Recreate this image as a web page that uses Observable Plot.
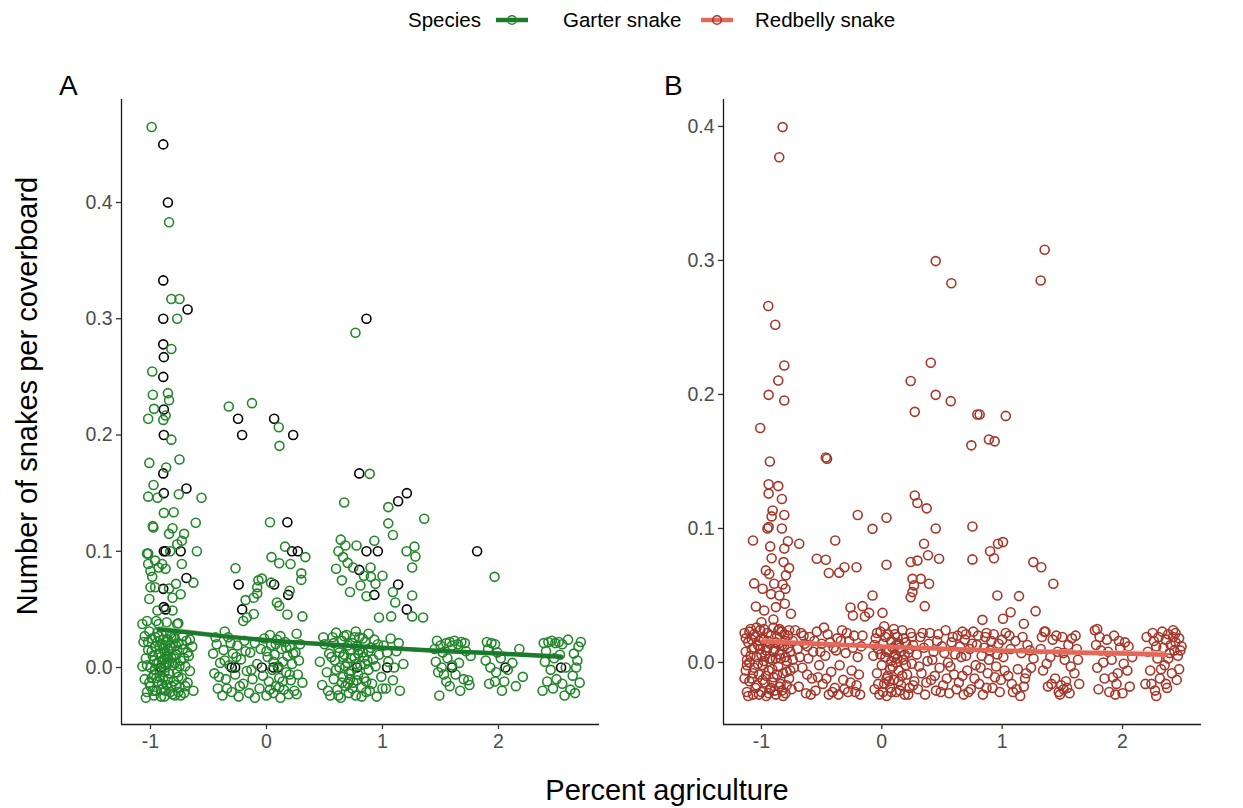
<!DOCTYPE html>
<html><head><meta charset="utf-8">
<script src="https://cdn.jsdelivr.net/npm/d3@7"></script>
<script src="https://cdn.jsdelivr.net/npm/@observablehq/plot@0.6"></script>
<style>
body{margin:0;background:#fff;font-family:"Liberation Sans",Arial,sans-serif;}
#wrap{position:relative;width:1243px;height:808px;overflow:hidden;background:#fff;}
.abs{position:absolute;}
.lg{position:absolute;top:8px;font-size:20.5px;color:#000;white-space:nowrap;line-height:24px;}
.tag{position:absolute;font-size:28px;color:#000;line-height:1;}
</style></head><body><div id="wrap">
<div id="legend"></div>
<div class="tag" style="left:59px;top:72px;">A</div>
<div class="tag" style="left:664px;top:72px;">B</div>
<svg class="abs" style="left:0;top:0;pointer-events:none" width="1243" height="808">
  <text x="667" y="800" text-anchor="middle" font-size="29" fill="#000" font-family="Liberation Sans, Arial, sans-serif">Percent agriculture</text>
  <text transform="translate(37,396) rotate(-90)" text-anchor="middle" font-size="29" fill="#000" font-family="Liberation Sans, Arial, sans-serif">Number of snakes per coverboard</text>
</svg>
<div id="pA" class="abs" style="left:0;top:0"></div>
<div id="pB" class="abs" style="left:620px;top:0"></div>
</div>
<script>
// ---------- Data ----------
const speciesNames = ["Garter snake", "Redbelly snake"];
const xTicks = [-1, 0, 1, 2];
const yTicks = [0, 0.1, 0.2, 0.3, 0.4];

// Garter snake: jittered observations (green)
const garterPts = [
[-0.99,0.465],[-0.84,0.383],[-0.82,0.317],[-0.75,0.317],[-0.77,0.30],[-0.82,0.274],[-0.985,0.2546],[-0.98,0.2346],[-0.85,0.236],[-0.84,0.23],[-0.97,0.2225],[-0.87,0.2168],[-1.02,0.214],[-0.89,0.213],[-0.82,0.196],[-0.325,0.2245],[-0.125,0.2274],[0.106,0.2067],[0.112,0.1907],[-1.01,0.176],[-0.75,0.179],[-0.865,0.172],[-0.974,0.157],[-1.02,0.147],[-0.94,0.146],[-0.756,0.149],[-0.56,0.146],[0.67,0.142],[-0.885,0.133],[-0.80,0.1336],[-0.98,0.1216],[-0.975,0.1205],[-0.81,0.1198],[-0.61,0.1245],[-0.71,0.115],[-0.84,0.115],[-0.73,0.109],[-0.77,0.106],[0.03,0.125],[-1.02,0.098],[-0.6,0.1],[0.16,0.104],[0.335,0.095],[0.043,0.095],[0.11,0.0897],[0.207,0.089],[0.30,0.081],[0.30,0.0754],[-0.267,0.0854],[-0.07,0.075],[-0.08,0.069],[-0.08,0.0636],[-0.04,0.0765],[0.04,0.073],[0.2,0.066],[0.09,0.056],[0.11,0.053],[0.18,0.0456],[0.31,0.044],[-0.18,0.058],[-0.11,0.06],[-0.11,0.046],[-0.2,0.04],[-0.17,0.043],
[-1.03,0.098],[-1.02,0.089],[-1.0,0.083],[-0.96,0.092],[-0.93,0.086],[-0.9,0.089],[-0.87,0.085],[-0.985,0.078],[-1.0,0.069],[-0.96,0.069],[-0.84,0.068],[-0.78,0.072],[-0.74,0.063],[-0.81,0.060],[-1.01,0.059],[-0.94,0.049],[-0.81,0.049],[-1.03,0.040],[-0.93,0.0375],[-0.77,0.0375],[-0.63,0.073],[-0.73,0.089],[-0.83,0.10],[-1.07,0.0375],[-0.76,0.038],[-0.86,0.039],[-0.95,0.04],
[0.767,0.288],[0.89,0.1666],[1.05,0.138],[1.36,0.128],[1.05,0.124],[1.09,0.114],[0.776,0.105],[0.93,0.109],[1.207,0.1],[1.276,0.104],[1.284,0.0955],[1.256,0.086],[1.966,0.078],[0.747,0.086],[0.897,0.086],[0.9,0.078],[0.84,0.079],[0.94,0.072],[0.81,0.0705],[1.0,0.079],[0.862,0.0613],[1.09,0.065],[1.256,0.062],[1.11,0.056],[0.97,0.043],[1.075,0.044],[1.256,0.044],[1.35,0.043],[0.62,0.1],[0.66,0.095],[0.68,0.105],[0.6,0.085],[0.65,0.075],[0.7,0.09],[0.72,0.065],[0.64,0.11],
[-1.06,0.022],[-1.04,0.008],[-1.05,-0.010],[-1.03,-0.021],[-1.02,0.015],[-1.00,0.000],[-1.00,-0.016],[-0.99,0.025],[-0.98,0.010],[-0.97,-0.006],[-0.97,-0.024],[-0.96,0.018],[-0.95,0.003],[-0.94,-0.012],[-0.93,0.027],[-0.93,0.012],[-0.92,-0.003],[-0.91,-0.019],[-0.90,0.020],[-0.90,0.006],[-0.89,-0.009],[-0.88,-0.025],[-0.88,0.014],[-0.87,0.000],[-0.86,-0.015],[-0.85,0.024],[-0.85,0.009],[-0.84,-0.005],[-0.83,-0.021],[-0.82,0.017],[-0.81,0.002],[-0.80,-0.012],[-0.80,0.026],[-0.79,-0.024],[-0.78,0.011],[-0.77,-0.004],[-0.76,0.021],[-0.75,-0.017],[-0.74,0.006],[-0.73,-0.009],[-0.72,0.016],[-0.71,-0.022],[-0.70,0.001],[-0.69,0.023],[-0.68,-0.013],[-0.67,0.010],[-0.66,-0.003],[-0.64,0.018],[-0.63,-0.020],[-1.07,0.001],[-1.01,0.031],[-0.96,-0.002],[-0.91,0.009],[-0.87,0.019],[-0.84,0.014],[-0.82,-0.016],[-0.79,0.004],[-0.76,-0.008],[-0.72,0.027],[-0.94,0.022],[-0.99,-0.009],[-0.86,0.004],[-0.83,0.029],[-0.89,-0.018],[-0.95,-0.020],[-0.78,0.019],
[-1.05,0.027],[-1.03,0.002],[-1.01,-0.013],[-0.99,0.014],[-0.98,-0.020],[-0.96,0.026],[-0.95,-0.009],[-0.93,0.005],[-0.92,0.018],[-0.91,-0.025],[-0.89,0.024],[-0.88,-0.004],[-0.87,-0.020],[-0.86,0.022],[-0.85,-0.010],[-0.84,0.004],[-0.83,0.019],[-0.82,0.008],[-0.81,-0.023],[-0.80,0.010],[-0.79,0.025],[-0.78,-0.015],[-0.77,0.015],[-0.75,0.001],[-0.74,-0.024],[-0.73,0.020],[-0.71,0.008],[-0.70,-0.016],[-0.68,0.013],[-0.66,0.024],[-1.04,-0.026],[-0.97,0.006],[-0.94,0.030],[-0.90,-0.014],[-0.86,0.010],[-0.82,0.027],[-0.76,-0.021],[-1.02,0.022],[-0.92,-0.008],[-0.88,0.008],
[-0.46,0.012],[-0.45,-0.005],[-0.43,0.020],[-0.42,-0.018],[-0.40,0.004],[-0.38,-0.024],[-0.37,0.015],[-0.35,-0.010],[-0.33,0.026],[-0.32,0.002],[-0.30,-0.021],[-0.29,0.012],[-0.27,-0.006],[-0.25,0.019],[-0.24,-0.025],[-0.22,0.007],[-0.20,-0.014],[-0.19,0.023],[-0.17,-0.003],[-0.15,-0.022],[-0.14,0.013],[-0.12,-0.010],[-0.10,0.021],[-0.08,0.003],[-0.06,-0.018],[-0.05,0.016],[-0.03,-0.007],[-0.02,0.025],[0.00,-0.024],[0.01,0.009],[0.02,-0.012],[0.04,0.019],[0.05,-0.002],[0.06,-0.022],[0.07,0.011],[0.08,-0.016],[0.09,0.024],[0.10,0.001],[0.11,-0.009],[0.12,-0.026],[0.13,0.016],[0.14,0.005],[0.15,-0.019],[0.16,0.022],[0.17,-0.004],[0.18,0.010],[0.19,-0.023],[0.20,0.018],[0.21,-0.011],[0.22,0.003],[0.24,-0.020],[0.25,0.013],[0.27,-0.006],[0.29,0.020],[0.31,-0.013],[0.03,0.028],[0.12,0.027],[0.26,0.029],[-0.36,0.031],[-0.10,-0.026],
[-0.44,0.026],[-0.41,-0.008],[-0.36,0.006],[-0.34,-0.018],[-0.31,0.021],[-0.26,0.009],[-0.23,-0.016],[-0.18,0.014],[-0.13,-0.002],[0.00,0.014],[0.03,-0.019],[0.06,0.005],[0.08,0.020],[0.11,-0.017],[0.14,-0.012],[0.17,0.017],[0.20,-0.006],[0.23,0.012],[0.26,-0.023],[0.28,0.006],
[0.46,0.005],[0.48,-0.015],[0.50,0.020],[0.52,-0.004],[0.54,0.012],[0.55,-0.024],[0.57,0.026],[0.58,-0.010],[0.59,0.006],[0.61,-0.019],[0.62,0.017],[0.63,0.000],[0.64,-0.026],[0.65,0.023],[0.66,-0.008],[0.67,0.011],[0.68,-0.016],[0.69,0.028],[0.70,0.004],[0.71,-0.022],[0.72,0.015],[0.73,-0.003],[0.74,0.021],[0.75,-0.013],[0.76,0.008],[0.77,-0.024],[0.78,0.018],[0.79,-0.006],[0.80,0.026],[0.81,0.002],[0.82,-0.017],[0.83,0.013],[0.84,-0.009],[0.85,0.022],[0.86,-0.021],[0.87,0.006],[0.88,-0.002],[0.90,0.017],[0.91,-0.014],[0.93,0.024],[0.94,0.001],[0.95,-0.025],[0.97,0.011],[0.99,-0.008],[1.01,0.019],[1.03,-0.018],[1.05,0.005],[1.07,0.025],[1.09,-0.011],[1.12,0.014],[1.15,-0.020],[1.18,0.003],[0.60,0.030],[0.72,-0.010],[0.77,0.031],[0.85,0.003],[0.66,0.009],[0.79,0.012],[0.70,-0.014],[0.88,0.029],
[0.49,0.026],[0.53,-0.020],[0.56,0.009],[0.60,-0.002],[0.62,-0.024],[0.63,0.013],[0.65,-0.013],[0.67,0.027],[0.68,0.001],[0.70,0.019],[0.71,-0.005],[0.73,0.008],[0.74,-0.018],[0.76,0.026],[0.77,0.003],[0.78,-0.011],[0.80,0.015],[0.82,-0.025],[0.83,0.025],[0.84,0.009],[0.86,-0.012],[0.88,0.014],[0.89,-0.020],[0.92,0.007],[0.96,0.020],[1.00,-0.018],[1.04,0.013],[1.10,0.000],[1.14,0.021],[0.58,0.021],
[1.47,0.023],[1.50,0.019],[1.52,0.013],[1.55,0.021],[1.58,0.022],[1.60,0.019],[1.62,0.023],[1.65,0.020],[1.68,0.022],[1.71,0.021],[1.46,0.005],[1.48,-0.004],[1.51,0.000],[1.56,0.008],[1.63,-0.006],[1.66,0.004],[1.70,-0.010],[1.75,-0.015],[1.74,-0.011],[1.49,-0.024],[1.55,-0.012],[1.60,0.002],[1.72,0.014],[1.53,-0.006],
[1.90,0.022],[1.94,0.021],[1.97,0.020],[2.18,0.016],[1.89,0.006],[1.93,0.000],[1.98,-0.004],[2.02,0.008],[2.08,-0.002],[1.92,-0.014],[1.97,-0.012],[2.03,-0.020],[2.15,-0.016],[1.99,0.013],
[2.39,0.021],[2.43,0.022],[2.46,0.023],[2.49,0.021],[2.52,0.022],[2.55,0.020],[2.60,0.024],[2.65,0.012],[2.68,0.006],[2.40,0.005],[2.45,-0.002],[2.50,-0.010],[2.42,-0.012],[2.55,-0.014],[2.62,-0.019],[2.66,-0.022],[2.70,-0.013],[2.64,-0.007],[2.38,-0.020],[2.58,0.000],[2.69,0.018],[2.47,-0.018],
[1.45,0.016],[1.58,-0.016],[1.67,-0.020],[1.76,0.010],[1.91,0.016],[2.05,-0.012],[2.12,0.004],[2.21,-0.008],[2.41,0.014],[2.53,0.011],[2.57,-0.024],[2.67,0.000],[2.71,0.022],[2.48,0.008]
];

// Garter snake: raw (unjittered) observations (black)
const garterRaw = [
[-0.89,0.45],[-0.85,0.40],[-0.89,0.333],[-0.68,0.308],[-0.89,0.30],[-0.89,0.278],[-0.885,0.267],[-0.89,0.25],[-0.885,0.222],[-0.885,0.20],[-0.245,0.214],[0.066,0.214],[-0.21,0.20],[0.23,0.20],[-0.89,0.167],[-0.69,0.154],[-0.885,0.15],[0.80,0.167],[0.862,0.30],[1.21,0.15],[1.135,0.143],[0.18,0.125],[-0.885,0.10],[-0.87,0.10],[-0.74,0.10],[0.22,0.10],[0.27,0.10],[0.862,0.10],[0.96,0.10],[1.816,0.10],[-0.69,0.077],[-0.89,0.0677],[-0.24,0.0714],[0.066,0.0714],[1.135,0.0714],[0.80,0.084],[0.187,0.0625],[0.93,0.0625],[-0.885,0.052],[-0.87,0.05],[-0.21,0.05],[1.21,0.05],
[-0.91,0],[-0.30,0],[-0.27,0],[-0.04,0],[0.06,0],[0.10,0],[0.78,0],[1.04,0],[1.60,0],[2.06,0],[2.54,0]
];

// Redbelly snake: jittered observations
const redbellyPts = [
[-0.824,0.3995],[-0.852,0.377],[-0.943,0.266],[-0.885,0.252],[0.448,0.2995],[0.578,0.283],[1.353,0.308],[1.32,0.285],[-0.81,0.2216],[-0.86,0.2104],[-0.94,0.1997],[-0.81,0.1955],[-1.01,0.175],[-0.93,0.150],[-0.465,0.153],[-0.455,0.152],[-0.94,0.133],[-0.86,0.1316],[-0.94,0.126],[-0.83,0.122],[-0.907,0.1134],[-0.915,0.109],[-0.81,0.110],[-0.95,0.100],[-0.94,0.101],[-0.83,0.100],[-1.07,0.091],[-0.78,0.0905],[-0.686,0.0886],[-0.927,0.0866],[-0.81,0.085],[-0.387,0.091],[-0.2,0.110],[-0.077,0.0997],[0.039,0.108],[-0.54,0.0774],[-0.465,0.0766],[-0.354,0.067],[-0.21,0.0711],[0.039,0.0729],[-0.915,0.0778],[-0.816,0.0749],[-0.77,0.0704],[-0.963,0.0687],[-0.935,0.066],[-0.797,0.065],[-1.06,0.059],[-0.99,0.055],[-0.894,0.0587],[-0.824,0.0582],[-0.92,0.051],[-0.85,0.05],[-0.8,0.055],[-1.046,0.0418],[-0.977,0.0388],[-0.805,0.0438],[-0.755,0.0363],[-0.88,0.0413],[-0.077,0.05],[-0.16,0.042],[-0.14,0.0343],[0.006,0.037],[0.407,0.2236],[0.24,0.21],[0.448,0.1997],[0.573,0.195],[0.274,0.187],[0.794,0.185],[0.744,0.162],[0.274,0.1246],[0.296,0.119],[0.373,0.115],[0.448,0.100],[0.351,0.0886],[0.384,0.080],[0.24,0.075],[0.296,0.076],[0.476,0.0774],[0.255,0.0624],[0.324,0.0624],[0.268,0.0575],[0.255,0.0525],[0.24,0.0487],[0.393,0.0587],[0.357,0.042],[0.753,0.1015],[0.753,0.0769],[0.813,0.185],[1.03,0.184],[0.89,0.1664],[0.938,0.165],[0.9,0.083],[0.965,0.0886],[1.007,0.0898],[0.932,0.0778],[1.259,0.0749],[1.325,0.0711],[1.425,0.0587],[1.14,0.0495],[1.278,0.0383],[1.007,0.0326],[1.18,0.0289],[-0.44,0.0667],[-0.31,0.071],[-0.26,0.041],[-0.24,0.035],[-0.105,0.037],[0.96,0.05],[1.07,0.0375],[0.836,0.0318],[1.79,0.025],[1.35,0.023],[-1.0,0.03],[-0.9,0.032],
[-1.14,0.022],[-1.13,0.008],[-1.13,-0.006],[-1.12,-0.022],[-1.11,0.015],[-1.10,0.000],[-1.10,-0.014],[-1.09,0.025],[-1.08,0.010],[-1.07,-0.024],[-1.06,-0.004],[-1.05,0.019],[-1.04,0.004],[-1.04,-0.017],[-1.03,0.013],[-1.02,-0.009],[-1.01,0.024],[-1.00,-0.022],[-1.00,0.006],[-0.99,-0.002],[-0.98,0.017],[-0.97,-0.015],[-0.96,0.009],[-0.96,-0.025],[-0.95,0.022],[-0.94,-0.006],[-0.93,0.014],[-0.92,-0.019],[-0.91,0.002],[-0.90,0.026],[-0.90,-0.011],[-0.89,0.010],[-0.88,-0.024],[-0.87,0.019],[-0.86,-0.003],[-0.85,0.006],[-0.84,-0.016],[-0.83,0.023],[-0.82,-0.008],[-0.81,0.012],[-0.80,-0.023],[-0.79,0.001],[-0.78,0.020],[-0.77,-0.012],[-0.76,0.008],[-0.75,-0.020],[-0.74,0.016],[-0.73,-0.004],[-0.72,0.024],[-1.12,0.002],[-1.06,0.021],[-0.98,0.001],[-0.93,-0.020],[-0.88,0.003],[-0.85,0.025],[-0.80,0.016],[-1.08,-0.012],[-1.02,0.016],[-0.95,0.011],[-0.91,-0.005],[-0.86,0.014],[-0.83,-0.021],[-0.79,-0.007],
[-1.14,-0.012],[-1.13,0.018],[-1.12,-0.002],[-1.11,-0.025],[-1.10,0.023],[-1.09,0.005],[-1.08,0.017],[-1.07,-0.008],[-1.06,0.011],[-1.05,-0.019],[-1.04,0.026],[-1.03,-0.001],[-1.02,-0.024],[-1.01,0.010],[-1.00,0.018],[-0.99,-0.013],[-0.98,0.025],[-0.97,0.005],[-0.96,-0.010],[-0.95,0.016],[-0.94,-0.023],[-0.93,0.003],[-0.92,0.020],[-0.91,-0.015],[-0.90,0.008],[-0.89,-0.021],[-0.88,0.015],[-0.87,-0.009],[-0.86,0.024],[-0.85,-0.018],[-0.84,0.003],[-0.83,0.013],[-0.82,-0.025],[-0.81,0.021],[-0.80,0.004],[-0.79,-0.017],[-0.78,0.011],[-0.77,0.024],[-0.76,-0.006],[-0.74,0.002],
[-0.70,0.010],[-0.69,-0.018],[-0.67,0.022],[-0.66,-0.004],[-0.64,0.014],[-0.63,-0.023],[-0.61,0.003],[-0.60,0.019],[-0.58,-0.012],[-0.57,0.008],[-0.55,-0.021],[-0.54,0.023],[-0.52,-0.002],[-0.50,0.014],[-0.49,-0.016],[-0.47,0.005],[-0.45,0.021],[-0.44,-0.024],[-0.42,-0.007],[-0.40,0.011],[-0.39,-0.019],[-0.37,0.018],[-0.35,-0.002],[-0.33,0.024],[-0.32,-0.013],[-0.30,0.007],[-0.28,-0.022],[-0.27,0.016],[-0.25,-0.006],[-0.23,0.020],[-0.21,-0.017],[-0.20,0.004],[-0.18,-0.024],[-0.17,0.012],[-0.62,-0.009],[-0.48,0.026],[-0.36,-0.024],[-0.22,-0.022],
[-0.68,0.004],[-0.65,0.020],[-0.62,0.012],[-0.59,-0.024],[-0.56,0.016],[-0.53,-0.011],[-0.51,0.008],[-0.46,-0.012],[-0.43,0.015],[-0.41,-0.022],[-0.38,0.009],[-0.34,0.016],[-0.31,-0.020],[-0.29,0.022],[-0.26,-0.015],[-0.24,0.011],[-0.19,-0.009],[-0.16,0.020],
[-0.07,0.005],[-0.06,-0.020],[-0.05,0.018],[-0.04,-0.008],[-0.03,0.010],[-0.02,-0.024],[-0.01,0.023],[0.00,-0.002],[0.01,0.014],[0.02,-0.016],[0.03,0.004],[0.04,-0.025],[0.05,0.021],[0.05,-0.010],[0.06,0.009],[0.07,-0.019],[0.08,0.016],[0.09,-0.003],[0.10,0.025],[0.10,-0.013],[0.11,0.006],[0.12,-0.022],[0.13,0.019],[0.14,-0.006],[0.15,0.011],[0.16,-0.017],[0.17,0.024],[0.18,0.002],[0.19,-0.024],[0.20,0.015],[0.21,-0.009],[0.22,0.007],[0.23,-0.019],[0.24,0.022],[0.25,-0.001],[0.26,0.013],[0.27,-0.014],[0.02,0.027],[0.08,0.001],[0.13,0.003],[0.16,0.008],[0.07,-0.005],[0.12,0.013],[0.04,-0.012],
[-0.06,0.013],[-0.04,0.022],[-0.03,-0.016],[-0.01,0.006],[0.01,-0.022],[0.03,0.019],[0.04,0.008],[0.06,-0.014],[0.08,-0.022],[0.09,0.011],[0.11,0.021],[0.12,0.000],[0.14,0.014],[0.15,-0.021],[0.17,-0.010],[0.18,0.018],[0.20,-0.002],[0.22,-0.024],[0.23,0.010],[0.25,0.019],[0.26,-0.017],[0.14,-0.014],[0.10,0.004],[0.19,0.006],
[0.29,0.006],[0.30,-0.020],[0.32,0.019],[0.33,-0.008],[0.35,0.011],[0.36,-0.024],[0.38,0.001],[0.40,0.022],[0.41,-0.013],[0.43,0.008],[0.45,-0.021],[0.46,0.016],[0.48,-0.004],[0.50,0.012],[0.51,-0.017],[0.53,0.024],[0.55,0.000],[0.56,-0.023],[0.58,0.015],[0.60,-0.009],[0.61,0.006],[0.63,0.020],[0.64,-0.015],[0.66,0.004],[0.68,-0.024],[0.69,0.017],[0.71,-0.006],[0.73,0.010],[0.74,-0.020],[0.76,0.023],[0.78,-0.002],[0.79,0.013],[0.81,-0.016],[0.83,0.005],[0.84,-0.024],[0.86,0.019],[0.88,-0.008],[0.90,0.009],[0.92,-0.019],[0.93,0.021],[0.95,-0.003],[0.97,0.014],[0.99,-0.013],[1.01,0.004],[1.03,0.022],[1.05,-0.010],[1.07,0.010],[1.09,-0.022],[1.11,0.016],[1.13,-0.005],[1.16,0.007],[1.18,-0.018],[1.21,0.013],[1.24,-0.004],[1.26,0.003],[0.67,0.023],[0.70,0.021],[0.87,0.022],[1.15,-0.025],[1.19,-0.012],
[0.31,-0.003],[0.34,0.022],[0.37,-0.015],[0.39,0.014],[0.42,0.002],[0.44,-0.010],[0.47,0.021],[0.49,-0.022],[0.52,0.007],[0.54,-0.012],[0.57,-0.003],[0.59,0.019],[0.62,-0.020],[0.65,0.012],[0.67,-0.010],[0.70,0.005],[0.72,-0.022],[0.75,0.014],[0.77,-0.012],[0.80,0.020],[0.82,-0.004],[0.85,0.011],[0.87,-0.019],[0.89,0.002],[0.91,0.016],[0.94,-0.011],[0.96,0.006],[0.98,-0.022],[1.00,0.017],[1.02,-0.006],[1.06,0.020],[1.08,-0.016],[1.12,-0.020],[1.17,0.019],[1.20,-0.008],[1.23,0.009],
[1.32,0.010],[1.34,-0.006],[1.36,0.023],[1.38,-0.018],[1.40,0.004],[1.42,0.017],[1.44,-0.012],[1.46,0.008],[1.47,-0.022],[1.49,-0.017],[1.50,0.019],[1.51,-0.020],[1.52,0.002],[1.53,-0.014],[1.55,0.013],[1.56,-0.023],[1.58,0.018],[1.60,-0.008],[1.62,0.010],[1.64,-0.016],[1.48,-0.024],[1.54,-0.019],
[1.77,0.024],[1.78,0.013],[1.79,-0.004],[1.80,-0.020],[1.82,0.009],[1.85,-0.012],[1.87,0.017],[1.89,-0.022],[1.91,0.002],[1.93,0.020],[1.95,-0.016],[1.96,-0.008],[1.98,0.011],[2.00,-0.023],[2.02,0.015],[2.04,-0.006],[2.06,-0.018],[2.08,0.004],[1.94,-0.024],
[2.19,-0.016],[2.21,0.008],[2.23,-0.006],[2.25,0.022],[2.26,0.016],[2.27,-0.021],[2.29,0.003],[2.30,0.019],[2.31,-0.012],[2.33,0.023],[2.34,0.011],[2.35,-0.002],[2.36,0.017],[2.37,-0.019],[2.38,0.021],[2.39,0.007],[2.40,0.013],[2.41,-0.008],[2.42,0.019],[2.43,0.009],[2.44,0.015],[2.45,-0.013],[2.46,0.005],[2.47,0.018],[2.49,0.012],[2.28,-0.025],[2.36,-0.016],[2.42,0.024],
[1.33,0.019],[1.37,-0.001],[1.41,-0.016],[1.45,0.020],[1.51,0.007],[1.57,-0.003],[1.61,0.020],[1.63,0.002],[1.81,0.019],[1.84,0.000],[1.88,0.008],[1.92,-0.011],[1.97,0.016],[2.01,-0.001],[2.05,0.012],[2.20,0.019],[2.24,-0.016],[2.28,0.012],[2.32,-0.005],[2.38,0.003],[2.44,0.022],[2.47,-0.005],[2.48,0.009]
];

// Fitted trends: x, fit, lower, upper
const garterFitX  = [-0.93, -0.5, 0, 0.5, 1, 1.5, 2, 2.54];
const garterFit   = [0.0330, 0.0283, 0.0235, 0.0200, 0.0170, 0.0143, 0.0120, 0.0092];
const garterLo    = [0.0305, 0.0266, 0.0225, 0.0192, 0.0160, 0.0131, 0.0106, 0.0076];
const garterHi    = [0.0357, 0.0301, 0.0246, 0.0209, 0.0181, 0.0156, 0.0135, 0.0110];
const redFitX     = [-0.99, -0.5, 0, 0.5, 1, 1.5, 2, 2.36];
const redFit      = [0.0157, 0.0137, 0.0119, 0.0102, 0.0088, 0.0076, 0.0066, 0.0058];
const redLo       = [0.0140, 0.0124, 0.0108, 0.0092, 0.0075, 0.0060, 0.0047, 0.0038];
const redHi       = [0.0176, 0.0151, 0.0131, 0.0113, 0.0102, 0.0094, 0.0087, 0.0082];

// ---------- Styling ----------
const FONT = '"Liberation Sans", Arial, sans-serif';
const col = {
  gPt: "#23862a", gLine: "#1b7a2c", gRib: "#8cc98c",
  rPt: "#a5372a", rLine: "#e2685a", rRib: "#f3b0a4"
};

function fitTable(xs, f, lo, hi) { return xs.map((x, i) => ({x, f: f[i], lo: lo[i], hi: hi[i]})); }

function panel({width, ml, mr, xDomain, yDomain, raw, pts, ptColor, fit, lineColor, ribColor}) {
  const marks = [
    Plot.ruleX([xDomain[0]], {stroke: "#1a1a1a", strokeWidth: 1.3}),
    Plot.ruleY([yDomain[0]], {stroke: "#1a1a1a", strokeWidth: 1.3}),
    Plot.axisX({ticks: xTicks, tickFormat: d => String(d), tickSize: 5, tickPadding: 5,
      stroke: "#333", fill: "#4d4d4d", fontSize: 19.5, label: null, strokeWidth: 1.3}),
    Plot.axisY({ticks: yTicks, tickFormat: d => d.toFixed(1), tickSize: 5, tickPadding: 4,
      stroke: "#333", fill: "#4d4d4d", fontSize: 19.5, label: null, strokeWidth: 1.3})
  ];
  if (raw) marks.push(Plot.dot(raw, {x: d => d[0], y: d => d[1], r: 4.5, stroke: "#000", strokeWidth: 1.6, fill: "none"}));
  marks.push(Plot.dot(pts, {x: d => d[0], y: d => d[1], r: 4.5, stroke: ptColor, strokeWidth: 1.6, fill: "none"}));
  marks.push(Plot.areaY(fit, {x: "x", y1: "lo", y2: "hi", fill: ribColor, fillOpacity: 0.75, curve: "monotone-x"}));
  marks.push(Plot.line(fit, {x: "x", y: "f", stroke: lineColor, strokeWidth: 4.5, curve: "monotone-x"}));
  return Plot.plot({
    width, height: 760, marginLeft: ml, marginRight: mr, marginTop: 99, marginBottom: 36,
    x: {domain: xDomain}, y: {domain: yDomain},
    style: {fontFamily: FONT, fontSize: "19.5px", background: "transparent", overflow: "visible"},
    marks
  });
}

document.getElementById("pA").appendChild(panel({
  width: 620, ml: 121, mr: 21, xDomain: [-1.25, 2.871], yDomain: [-0.049, 0.4886],
  raw: garterRaw, pts: garterPts, ptColor: col.gPt,
  fit: fitTable(garterFitX, garterFit, garterLo, garterHi), lineColor: col.gLine, ribColor: col.gRib
}));
document.getElementById("pB").appendChild(panel({
  width: 623, ml: 103, mr: 42, xDomain: [-1.315, 2.656], yDomain: [-0.0463, 0.4201],
  raw: null, pts: redbellyPts, ptColor: col.rPt,
  fit: fitTable(redFitX, redFit, redLo, redHi), lineColor: col.rLine, ribColor: col.rRib
}));

// ---------- Legend ----------
const lg = document.getElementById("legend");
function sym(left, lineC, ptC) {
  return `<svg class="abs" style="left:${left}px;top:10px" width="34" height="20"><line x1="1" x2="33" y1="10" y2="10" stroke="${lineC}" stroke-width="4.5"/><circle cx="17" cy="10" r="4.3" fill="none" stroke="${ptC}" stroke-width="1.6"/></svg>`;
}
lg.innerHTML = `<span class="lg" style="left:408px">Species</span>` +
  sym(495, col.gLine, col.gPt) + `<span class="lg" style="left:563px">${speciesNames[0]}</span>` +
  sym(700, col.rLine, col.rPt) + `<span class="lg" style="left:755px">${speciesNames[1]}</span>`;
</script>
</body></html>
